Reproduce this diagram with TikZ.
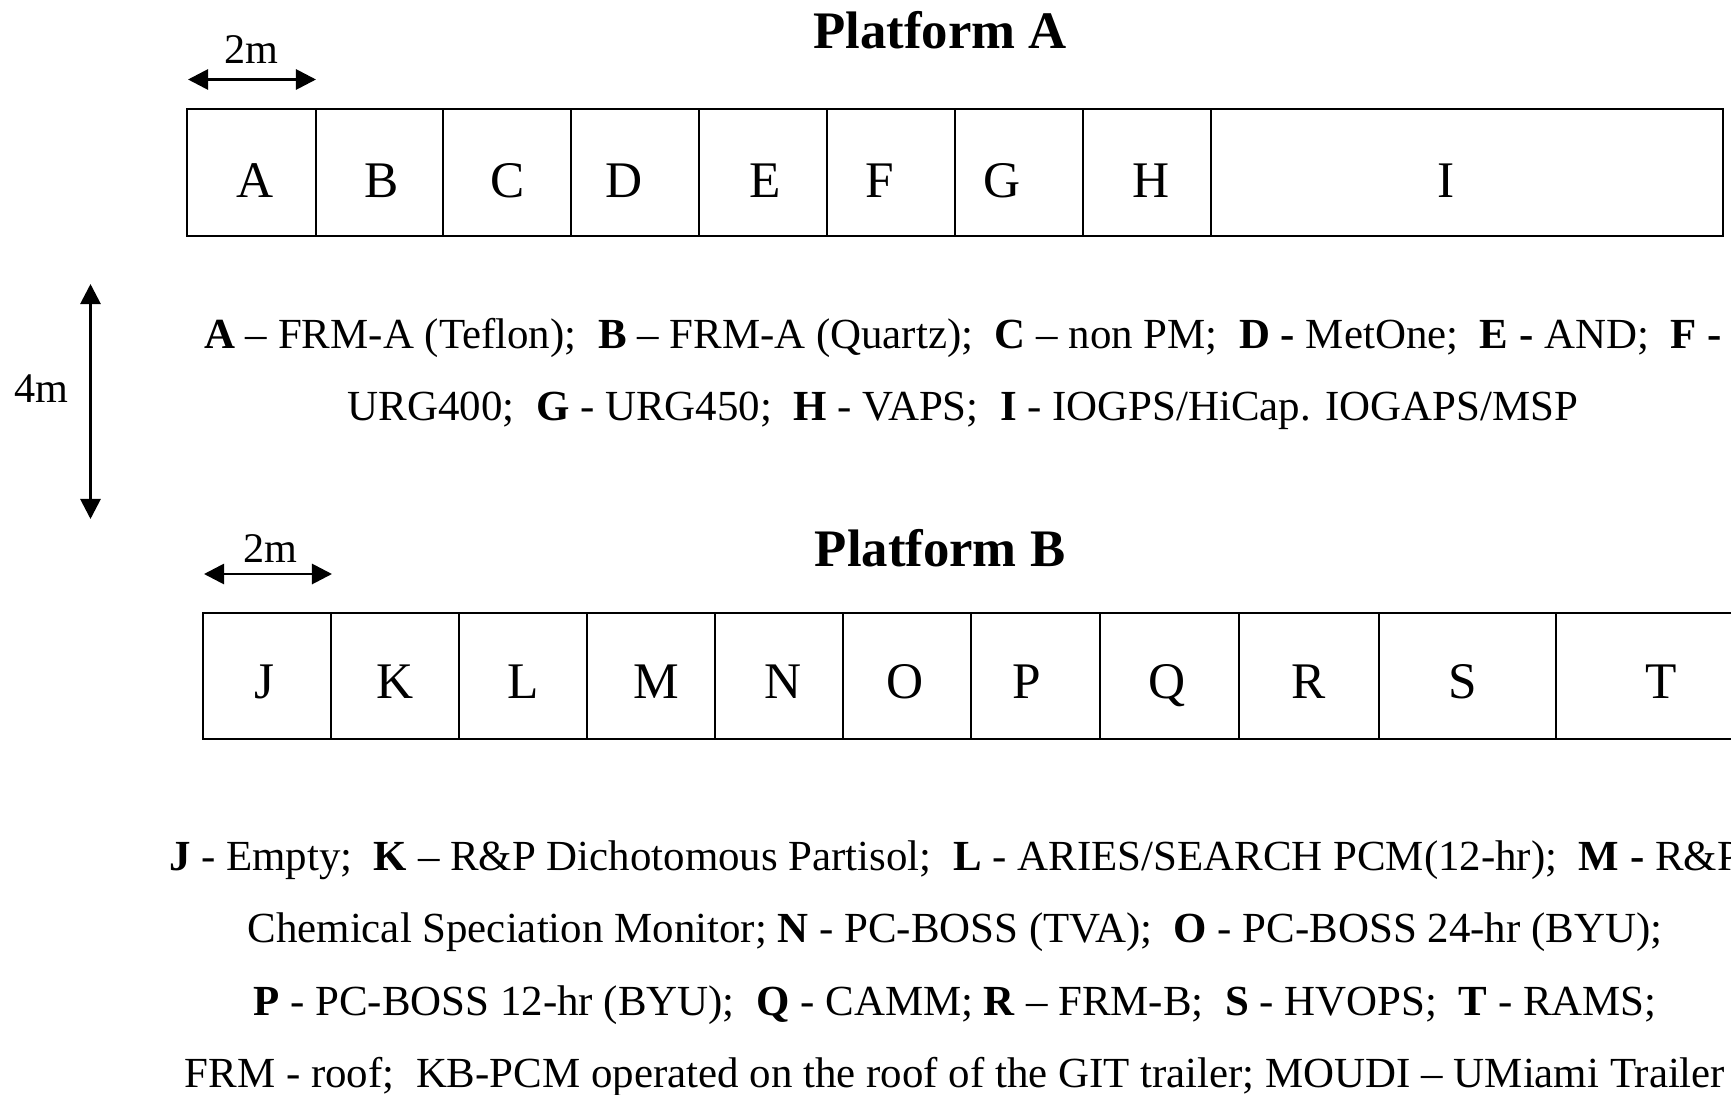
\documentclass[tikz,border=0pt]{standalone}
\usepackage{fontspec}
\setmainfont{Liberation Serif}
\usetikzlibrary{arrows.meta}

\begin{document}
\begin{tikzpicture}[x=0.01cm,y=-0.01cm,
    cellline/.style={line width=0.8pt},
    dimarrow/.style={line width=0.8pt,{Triangle[length=0.2cm,width=0.2cm]}-{Triangle[length=0.2cm,width=0.2cm]}},
    cellname/.style={anchor=base,font=\fontsize{14.6}{17}\selectfont},
    titletext/.style={anchor=base,font=\fontsize{15}{18}\selectfont\bfseries},
    dimtext/.style={font=\fontsize{12}{14}\selectfont},
    legendtext/.style={align=center,font=\fontsize{12.2}{20.6}\selectfont}]

            \clip (0,0) rectangle (1731,1094);

            % platform A
            \node[titletext] (titleA) at (940,49) {Platform A};
            \coordinate (dimAl) at (188,79.5);
            \coordinate (dimAr) at (316,79.5);
            \draw[dimarrow] (dimAl) -- (dimAr);
            \node[dimtext] (lenA) at (251,50) {2m};
            \draw[cellline] (187,109) rectangle (1723,236);
            \foreach \x in {316,443,571,699,827,955,1083,1211}
                \draw[cellline] (\x,109) -- (\x,236);
            \foreach \x/\n in {255/A,382/B,508/C,624/D,765/E,880/F,1002/G,1151/H,1446/I}
                \node[cellname] (cell\n) at (\x,197) {\n};

            % distance between the platforms
            \coordinate (gapTop) at (90.5,284);
            \coordinate (gapBot) at (90.5,519);
            \draw[dimarrow] (gapTop) -- (gapBot);
            \node[dimtext] (gapLen) at (41,389) {4m};

            % key for platform A
            \node[legendtext] (keyA) at (963,374) {\textbf{A} – FRM-A (Teflon);~ \textbf{B} – FRM-A (Quartz);~ \textbf{C} – non PM;~ \textbf{D -} MetOne;~ \textbf{E -} AND;~ \textbf{F -}\\
                URG400;~ \textbf{G} - URG450;~ \textbf{H} - VAPS;~ \textbf{I} - IOGPS/HiCap. IOGAPS/MSP};

            % platform B
            \node[titletext] (titleB) at (940,566) {Platform B};
            \coordinate (dimBl) at (204,574);
            \coordinate (dimBr) at (332,574);
            \draw[dimarrow] (dimBl) -- (dimBr);
            \node[dimtext] (lenB) at (270,549) {2m};
            \draw[cellline] (1760,613) -- (203,613) -- (203,739) -- (1760,739);
            \foreach \x in {331,459,587,715,843,971,1100,1239,1379,1556}
                \draw[cellline] (\x,613) -- (\x,739);
            \foreach \x/\n in {264/J,395/K,523/L,656/M,783/N,905/O,1027/P,1167/Q,1309/R,1463/S,1661/T}
                \node[cellname] (cell\n) at (\x,698) {\n};

            % key for platform B
            \node[legendtext] (keyB) at (955,968.5) {\textbf{J} - Empty;~ \textbf{K} – R\&P Dichotomous Partisol;~ \textbf{L} - ARIES/SEARCH PCM(12-hr);~ \textbf{M -} R\&P\\
                Chemical Speciation Monitor; \textbf{N} - PC-BOSS (TVA);~ \textbf{O} - PC-BOSS 24-hr (BYU);\\
                \textbf{P} - PC-BOSS 12-hr (BYU);~ \textbf{Q} - CAMM; \textbf{R} – FRM-B;~ \textbf{S} - HVOPS;~ \textbf{T} - RAMS;\\
                FRM - roof;~ KB-PCM operated on the roof of the GIT trailer; MOUDI – UMiami Trailer};
        \end{tikzpicture}
\end{document}
